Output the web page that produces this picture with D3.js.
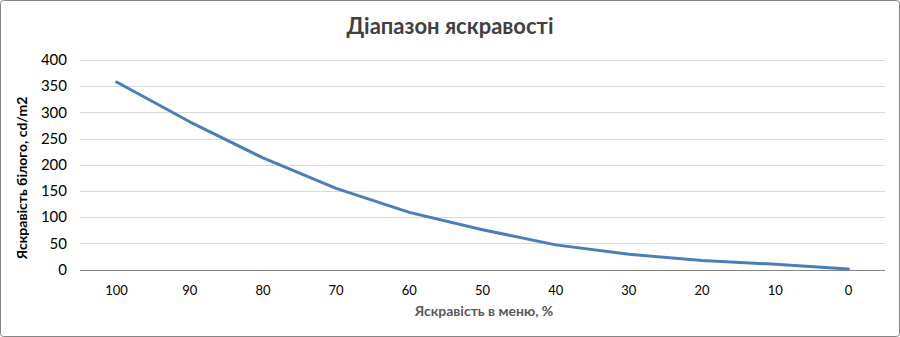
<!DOCTYPE html>
<html><head><meta charset="utf-8">
<script src="https://cdn.jsdelivr.net/npm/d3@7"></script>
<style>body{margin:0;background:#fff}svg{display:block}</style>
</head><body>
<script>
const categories = ["100","90","80","70","60","50","40","30","20","10","0"];
const values = [358, 282, 213, 155, 109, 76, 47, 29, 17, 10, 1];
const yTicks = [0,50,100,150,200,250,300,350,400];
const title = "Діапазон яскравості";
const xTitle = "Яскравість в меню, %";
const yTitle = "Яскравість білого, cd/m2";

const W=900,H=337;
const svg=d3.select("body").append("svg").attr("width",W).attr("height",H);
svg.append("rect").attr("x",0.5).attr("y",0.5).attr("width",W-1).attr("height",H-1)
  .attr("fill","#fff").attr("stroke","#868686").attr("rx",3);
const font="Lato, 'Open Sans', sans-serif";
const m={l:80,r:885,t:60,b:269.5};
const x=d3.scaleBand().domain(categories).range([m.l,m.r]);
const y=d3.scaleLinear().domain([0,400]).range([m.b,m.t]);
const g=svg.append("g");
g.selectAll("line.grid").data(yTicks.filter(d=>d>0)).join("line")
  .attr("x1",m.l).attr("x2",m.r).attr("y1",d=>Math.round(y(d))+0.5).attr("y2",d=>Math.round(y(d))+0.5)
  .attr("stroke","#d9d9d9").attr("stroke-width",1);
g.append("line").attr("x1",m.l).attr("x2",m.r).attr("y1",Math.round(m.b)+0.5).attr("y2",Math.round(m.b)+0.5)
  .attr("stroke","#868686").attr("stroke-width",1);
g.selectAll("text.yt").data(yTicks).join("text")
  .attr("x",67).attr("y",d=>y(d)).attr("dy","0.35em").attr("text-anchor","end")
  .attr("font-family",font).attr("font-size",15).attr("fill","#000").text(d=>d);
g.selectAll("text.xt").data(categories).join("text")
  .attr("x",d=>x(d)+x.bandwidth()/2).attr("y",295).attr("text-anchor","middle")
  .attr("font-family",font).attr("font-size",13).attr("fill","#000").text(d=>d);
const line=d3.line().x((d,i)=>x(categories[i])+x.bandwidth()/2).y(d=>y(d));
g.append("path").datum(values).attr("d",line).attr("fill","none")
  .attr("stroke","#4a7ebb").attr("stroke-width",3).attr("stroke-linecap","round").attr("stroke-linejoin","round");
svg.append("text").attr("x",450).attr("y",34).attr("text-anchor","middle")
  .attr("font-family",font).attr("font-weight","bold").attr("font-size",22).attr("fill","#404040").text(title);
svg.append("text").attr("x",484).attr("y",316).attr("text-anchor","middle")
  .attr("font-family",font).attr("font-weight","bold").attr("font-size",14).attr("fill","#595959").text(xTitle);
svg.append("text").attr("transform","translate(27,178) rotate(-90)").attr("text-anchor","middle")
  .attr("font-family",font).attr("font-weight","bold").attr("font-size",14).attr("fill","#000").text(yTitle);
</script>
</body></html>
